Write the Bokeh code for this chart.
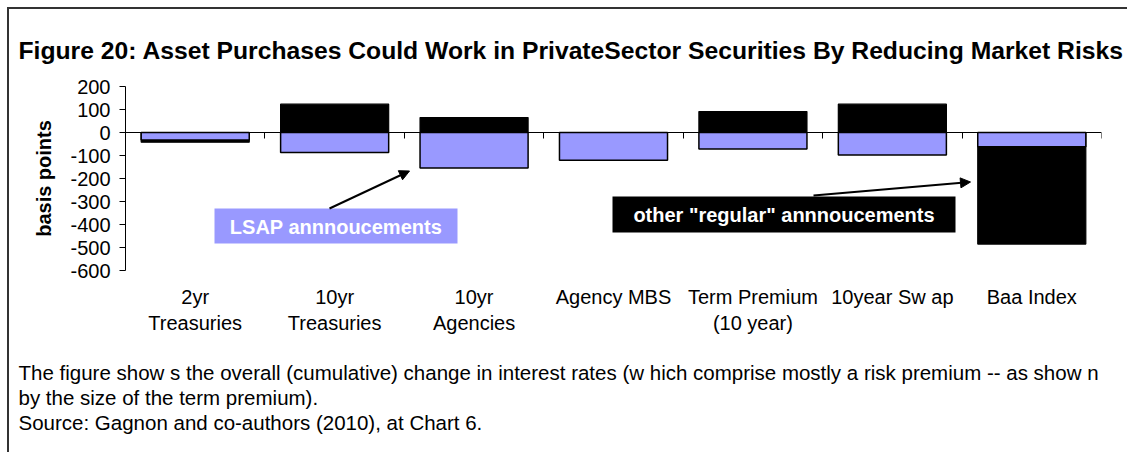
from bokeh.plotting import figure
from bokeh.models import (Range1d, FixedTicker, LinearAxis, BoxAnnotation, Title,
                          Arrow, NormalHead, CustomJSTickFormatter, Label)
from bokeh.embed import file_html
from bokeh.resources import INLINE

# ---------------- data ----------------
categories = ["2yr\nTreasuries", "10yr\nTreasuries", "10yr\nAgencies", "Agency MBS",
              "Term Premium\n(10 year)", "10year Sw ap", "Baa Index"]
lsap_bp = [-33, -87, -154, -121, -72, -98, -62]          # LSAP announcements
other_bp = [-42, 123, 65, 0, 91, 123, -485]               # other "regular" announcements
y_ticks = [200, 100, 0, -100, -200, -300, -400, -500, -600]

title_text = ("Figure 20: Asset Purchases Could Work in PrivateSector Securities "
              "By Reducing Market Risks")
foot_lines = [
    "The figure show s the overall (cumulative) change in interest rates (w hich comprise "
    "mostly a risk premium -- as show n",
    "by the size of the term premium).",
    "Source: Gagnon and co-authors (2010), at Chart 6.",
]

FONT = "Liberation Sans"
BLUE = "#9999FF"

# ---------------- layout (pixels) ----------------
OFF = 9                      # canvas origin in the picture (margin + border)
W, H = 1120, 445
FL, FR, FT, FB = 116, 1092, 77, 261   # frame edges inside the canvas

n = len(categories)
ymin, ymax = min(y_ticks), max(y_ticks)


def px_x(ix):
    """picture x pixel -> data x"""
    return (ix - OFF - FL) / (FR - FL) * n


def px_y(iy):
    """picture y pixel -> data y"""
    return ymax - (iy - OFF - FT) / (FB - FT) * (ymax - ymin)


p = figure(width=W, height=H, x_range=Range1d(0, n), y_range=Range1d(ymin, ymax),
           output_backend="svg", toolbar_location=None,
           min_border_left=FL, min_border_right=W - FR,
           min_border_top=FT, min_border_bottom=H - FB,
           background_fill_color="white", border_fill_color="white",
           styles={"margin-left": "7px", "margin-top": "7px",
                   "border-top": "2px solid #333333",
                   "border-left": "2px solid #333333"})
p.grid.visible = False
p.outline_line_color = None

# title
p.title.text = title_text
p.title.align = "left"
p.title.offset = 18 - OFF - FL
p.title.text_font = FONT
p.title.text_font_size = "24.7px"
p.title.text_font_style = "bold"
p.title.text_color = "black"
p.title.standoff = 45

xs = [i + 0.5 for i in range(n)]
p.vbar(x=xs, top=other_bp, bottom=0, width=0.775, fill_color="black",
       line_color="black", line_width=1.2)
p.vbar(x=xs, top=lsap_bp, bottom=0, width=0.775, fill_color=BLUE,
       line_color="black", line_width=1.5)

# category label axis (bottom)
xa = p.xaxis[0]
xa.ticker = FixedTicker(ticks=xs)
xa.major_label_overrides = {x: c for x, c in zip(xs, categories)}
xa.axis_line_color = None
xa.major_tick_line_color = None
xa.minor_tick_line_color = None
xa.major_tick_out = 0
xa.major_tick_in = 0
xa.major_label_standoff = 15
xa.major_label_text_font = FONT
xa.major_label_text_font_size = "20px"
xa.major_label_text_color = "black"

# axis crossing at zero with ticks between categories
zero_axis = LinearAxis(fixed_location=0,
                       ticker=FixedTicker(ticks=list(range(n + 1))),
                       formatter=CustomJSTickFormatter(code="return ''"),
                       major_tick_out=6, major_tick_in=0,
                       minor_tick_out=0, minor_tick_in=0,
                       axis_line_color="black", major_tick_line_color="black",
                       axis_line_width=1.2)
p.add_layout(zero_axis, "below")

# invisible spacer between category labels and the footnotes
spacer = LinearAxis(ticker=FixedTicker(ticks=[xs[0]]), major_tick_out=22, major_tick_in=0,
                    minor_tick_out=0, minor_tick_in=0, major_label_standoff=0,
                    formatter=CustomJSTickFormatter(code="return ''"),
                    axis_line_color=None, major_tick_line_color=None,
                    minor_tick_line_color=None)
p.add_layout(spacer, "below")

ya = p.yaxis[0]
ya.ticker = FixedTicker(ticks=y_ticks)
ya.major_label_overrides = {t: str(t) for t in y_ticks}
ya.major_label_text_font = FONT
ya.major_label_text_font_size = "20px"
ya.major_label_text_color = "black"
ya.major_tick_out = 6
ya.major_tick_in = 0
ya.minor_tick_line_color = None
ya.major_label_standoff = 9
ya.axis_line_color = "black"
ya.major_tick_line_color = "black"
ya.axis_label = "basis points"
ya.axis_label_text_font = FONT
ya.axis_label_text_font_size = "20px"
ya.axis_label_text_font_style = "bold"
ya.axis_label_text_color = "black"
ya.axis_label_standoff = 12

# footnotes
for ln in foot_lines:
    p.add_layout(Title(text=ln, align="left", offset=18 - OFF - FL,
                       text_font=FONT, text_font_size="20.5px", text_font_style="normal",
                       text_color="black", standoff=0), "below")

# LSAP annotation
p.add_layout(BoxAnnotation(left=px_x(214), right=px_x(457), top=px_y(208), bottom=px_y(243),
                           fill_color=BLUE, fill_alpha=1, line_color=None, level="annotation"))
p.add_layout(Label(x=px_x(335.5), y=px_y(226), text="LSAP annnoucements", text_font=FONT,
                   text_font_size="20px", text_font_style="bold", text_color="white",
                   text_align="center", text_baseline="middle"))
p.add_layout(Arrow(x_start=px_x(329), y_start=px_y(208), x_end=px_x(409), y_end=px_y(170.5),
                   line_width=2, line_color="black",
                   end=NormalHead(size=10, fill_color="black", line_color="black")))

# other annotation
p.add_layout(BoxAnnotation(left=px_x(612), right=px_x(955), top=px_y(196), bottom=px_y(232),
                           fill_color="black", fill_alpha=1, line_color=None, level="annotation"))
p.add_layout(Label(x=px_x(783.5), y=px_y(214), text='other "regular" annnoucements',
                   text_font=FONT, text_font_size="20px", text_font_style="bold",
                   text_color="white", text_align="center", text_baseline="middle"))
p.add_layout(Arrow(x_start=px_x(813), y_start=px_y(195), x_end=px_x(970), y_end=px_y(181.5),
                   line_width=2, line_color="black",
                   end=NormalHead(size=10, fill_color="black", line_color="black")))

open("out.html", "w").write(file_html(p, INLINE))
